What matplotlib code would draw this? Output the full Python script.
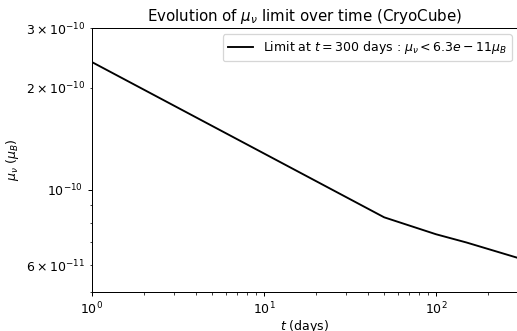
import matplotlib
matplotlib.use("Agg")
import matplotlib.pyplot as plt

days = [1, 50, 100, 150, 300]
mu_limit = [2.38e-10, 8.3e-11, 7.4e-11, 7.0e-11, 6.3e-11]

DPI = 90
W, H = 517, 331
fig = plt.figure(figsize=(W / DPI, H / DPI), dpi=DPI)
left, right, top, bottom = 92, 518, 28, 292
ax = fig.add_axes([left / W, (H - bottom) / H, (right - left) / W, (bottom - top) / H])

ax.plot(days, mu_limit, color="black", lw=1.5,
        label=r'Limit at $t = 300$ days : $\mu_\nu < 6.3e-11 \mu_B$')
ax.set_xscale("log")
ax.set_yscale("log")
ax.set_xlim(1, 300)
ax.set_ylim(5e-11, 3e-10)
ax.set_xlabel(r'$t$ (days)', labelpad=0.3)
ax.set_ylabel(r'$\mu_\nu$ ($\mu_B$)')
ax.set_title(r'Evolution of $\mu_\nu$ limit over time (CryoCube)')
ax.legend(loc="upper right")

fig.savefig("out.png", dpi=DPI)
